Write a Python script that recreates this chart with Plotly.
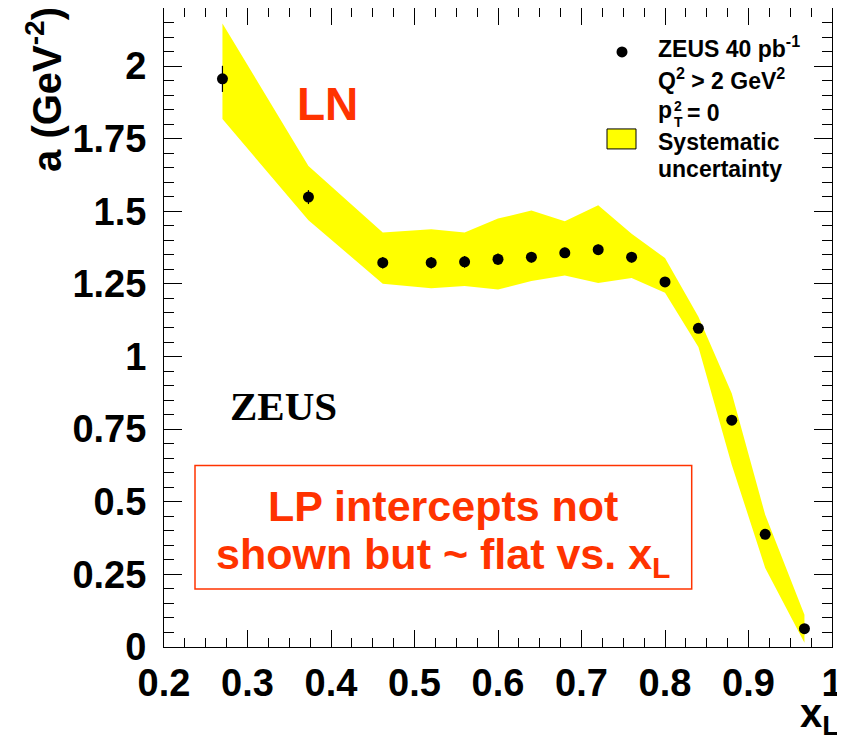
import plotly.graph_objects as go

# ---------------- data ----------------
x_L = [0.27, 0.373, 0.462, 0.52, 0.56, 0.60, 0.64, 0.68, 0.72, 0.76, 0.80, 0.84, 0.88, 0.92, 0.967]
a_val = [1.956, 1.549, 1.323, 1.323, 1.326, 1.335, 1.342, 1.357, 1.368, 1.342, 1.257, 1.097, 0.781, 0.388, 0.063]
a_stat = [0.045, 0.024, 0.02, 0.02, 0.02, 0.02, 0.018, 0.018, 0.018, 0.018, 0.015, 0.015, 0.015, 0.015, 0.01]
sys_up = [2.147, 1.656, 1.427, 1.438, 1.427, 1.475, 1.503, 1.466, 1.521, 1.423, 1.339, 1.137, 0.873, 0.455, 0.111]
sys_lo = [1.818, 1.469, 1.251, 1.235, 1.243, 1.231, 1.260, 1.279, 1.253, 1.270, 1.220, 1.033, 0.627, 0.272, 0.015]

x_range = [0.2, 1.0]
y_range = [0.0, 2.2]

# page has an 8px body margin; the figure is sized/placed to compensate
OFF = 8
W, H = 845 - OFF, 748 - OFF
PLOT_L, PLOT_R, PLOT_T, PLOT_B = 164, 832, 8, 647.3   # plot area in page pixels
L = PLOT_L - OFF
T = PLOT_T - OFF
R = (W + OFF) - PLOT_R
B = (H + OFF) - PLOT_B
PW, PH = PLOT_R - PLOT_L, PLOT_B - PLOT_T

RED = "#FF3300"
SANS = "Liberation Sans"


def px(xp):
    return (xp - PLOT_L) / PW


def py(yp):
    return (PLOT_B - yp) / PH


fig = go.Figure()

# systematic band
fig.add_trace(go.Scatter(
    x=x_L + x_L[::-1],
    y=sys_up + sys_lo[::-1],
    fill="toself", fillcolor="#FFFF00",
    line=dict(width=0, color="#FFFF00"),
    mode="lines", showlegend=False, hoverinfo="skip",
))

# data points
fig.add_trace(go.Scatter(
    x=x_L, y=a_val, mode="markers",
    marker=dict(color="black", size=11),
    error_y=dict(type="data", array=a_stat, color="black", thickness=1.2, width=0),
    showlegend=False,
))

annotations = []
shapes = []

# legend (drawn by hand, ROOT style)
shapes.append(dict(type="circle", xref="paper", yref="paper",
                   x0=px(616.5), x1=px(627.5), y0=py(57.5), y1=py(46.5),
                   fillcolor="black", line=dict(width=0)))
shapes.append(dict(type="rect", xref="paper", yref="paper",
                   x0=px(607), x1=px(636), y0=py(149), y1=py(129),
                   fillcolor="#FFFF00", line=dict(width=1, color="black")))

leg_font = dict(family=SANS, size=23, color="black", weight="bold")
small_font = dict(family=SANS, size=14, color="black", weight="bold")


def txt(text, xp, yp, font, xanchor="left", yanchor="middle", angle=0):
    annotations.append(dict(text=text, x=px(xp), y=py(yp), xref="paper", yref="paper",
                            showarrow=False, xanchor=xanchor, yanchor=yanchor,
                            font=font, textangle=angle))


txt("ZEUS 40 pb<sup>-1</sup>", 656, 47, leg_font)
txt("Q<sup>2</sup> &gt; 2 GeV<sup>2</sup>", 656, 79, leg_font)
txt("p", 656, 110, leg_font)
txt("2", 672, 106, small_font)
txt("T", 672, 122, small_font)
txt("= 0", 685, 113, leg_font)
txt("Systematic", 656, 142, leg_font)
txt("uncertainty", 656, 169, leg_font)

# LN label
txt("LN", 327, 104, dict(family=SANS, size=46, color=RED, weight="bold"), xanchor="center")

# ZEUS label
txt("ZEUS", 283, 406, dict(family="Liberation Serif", size=41, color="black", weight="bold"),
    xanchor="center")

# LP box
shapes.append(dict(type="rect", xref="paper", yref="paper",
                   x0=px(195), x1=px(691.7), y0=py(589.3), y1=py(465.7),
                   fillcolor="rgba(0,0,0,0)", line=dict(width=1.5, color=RED)))
lp_font = dict(family=SANS, size=43, color=RED, weight="bold")
txt("LP intercepts not", 443.4, 506, lp_font, xanchor="center")
txt("shown but ~ flat vs. x<sub>L</sub>", 443.4, 557, lp_font, xanchor="center")

# axis titles
txt("a (GeV<sup>-2</sup>)", 44, 90, dict(family=SANS, size=40, color="black", weight="bold"),
    xanchor="center", angle=-90)
txt("x<sub>L</sub>", 841, 716, dict(family=SANS, size=40, color="black", weight="bold"),
    xanchor="right")

tickfont = dict(family=SANS, size=38, color="black", weight="bold")

fig.update_layout(
    width=W, height=H,
    margin=dict(l=L, r=R, t=T, b=B, pad=0, autoexpand=False),
    paper_bgcolor="white", plot_bgcolor="white",
    showlegend=False,
    annotations=annotations, shapes=shapes,
    xaxis=dict(range=x_range, tick0=0.2, dtick=0.1, ticks="inside", ticklen=17,
               tickwidth=1, tickcolor="black", showline=True, linecolor="black",
               linewidth=1, mirror="allticks", showgrid=False, zeroline=False,
               automargin=False,
               tickfont=tickfont, ticklabelstandoff=2,
               minor=dict(dtick=0.025, ticks="inside", ticklen=9, tickcolor="black",
                          tickwidth=1, showgrid=False)),
    yaxis=dict(range=y_range, tick0=0, dtick=0.25, ticks="inside", ticklen=18,
               tickwidth=1, tickcolor="black", showline=True, linecolor="black",
               linewidth=1, mirror="allticks", showgrid=False, zeroline=False,
               automargin=False,
               tickfont=tickfont, ticklabelstandoff=9,
               minor=dict(dtick=0.05, ticks="inside", ticklen=10, tickcolor="black",
                          tickwidth=1, showgrid=False)),
)

fig.write_html("out.html")
